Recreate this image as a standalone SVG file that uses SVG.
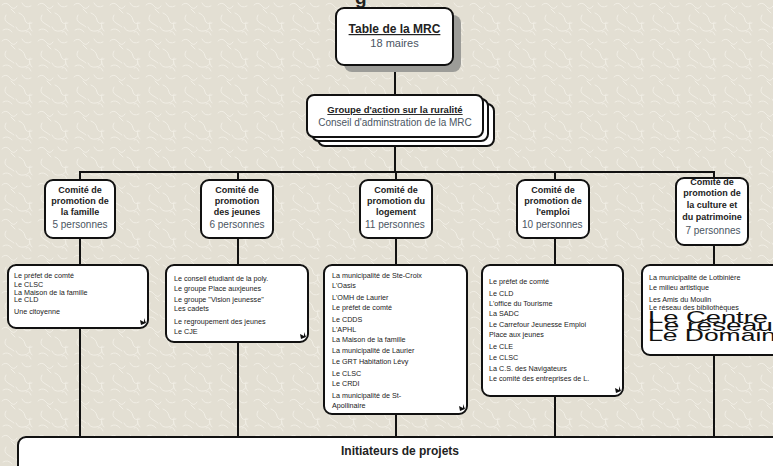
<svg xmlns="http://www.w3.org/2000/svg" width="773" height="466" viewBox="0 0 773 466">
<defs>
<pattern id="tex" width="36" height="36" patternUnits="userSpaceOnUse">
<rect width="36" height="36" fill="#e3dfd3"/>
<path d="M2 5 q4 -4 8 1 t7 0 M22 3 q3 6 9 3 M6 15 q-3 5 2 8 t6 4 M19 13 q5 2 6 7 t7 3 M3 30 q5 -3 9 2 M16 27 q2 5 8 4 t6 -5 M30 22 q-2 5 2 9 M11 9 l4 4 M26 32 q3 -2 5 3" fill="none" stroke="#f1eee5" stroke-width="1" stroke-linecap="round"/>
</pattern>
<style>
.box{fill:#fff;stroke:#111;stroke-width:2}
.ln{stroke:#111;stroke-width:2;fill:none}
.t{font-family:"Liberation Sans",Arial,sans-serif;text-anchor:middle}
.hb{font-weight:bold;font-size:9px;fill:#222}
.pp{font-size:10px;fill:#4a5562}
.d{font-family:"Liberation Sans",Arial,sans-serif;font-size:7.2px;fill:#1a1a1a}
.mk{fill:#111}
</style>
</defs>
<rect width="773" height="466" fill="url(#tex)"/>
<text x="355" y="4" font-family="Liberation Sans, Arial, sans-serif" font-weight="bold" font-size="19" fill="#222">g</text>

<g id="connectors">
<line class="ln" x1="395" y1="65" x2="395" y2="95"/>
<line class="ln" x1="395" y1="140" x2="395" y2="172"/>
<line class="ln" x1="80" y1="172" x2="714" y2="172"/>
<line class="ln" x1="80" y1="171" x2="80" y2="438"/>
<line class="ln" x1="238" y1="171" x2="238" y2="438"/>
<line class="ln" x1="396" y1="171" x2="396" y2="438"/>
<line class="ln" x1="555" y1="171" x2="555" y2="438"/>
<line class="ln" x1="714" y1="171" x2="714" y2="438"/>
</g>

<g id="table-mrc">
<rect x="344" y="15" width="117" height="57" rx="8" fill="#9c9c98"/>
<rect class="box" x="336" y="8" width="117" height="57" rx="8"/>
<text class="t" x="394.5" y="33" font-weight="bold" font-size="12" fill="#222" text-decoration="underline">Table de la MRC</text>
<text class="t" x="394.5" y="47" font-size="11" fill="#4a5562">18 maires</text>
</g>

<g id="groupe-action">
<rect class="box" x="318" y="104" width="176" height="42" rx="7"/>
<rect class="box" x="312" y="99" width="176" height="42" rx="7"/>
<rect class="box" x="307" y="95" width="176" height="42" rx="7"/>
<text class="t" x="395" y="113" font-weight="bold" font-size="9.5" fill="#222" text-decoration="underline">Groupe d'action sur la ruralité</text>
<text class="t" x="395" y="126" font-size="10" fill="#4a5562">Conseil d'adminstration de la MRC</text>
</g>

<g id="comite-famille">
<rect class="box" x="45" y="180" width="70" height="58" rx="8"/>
<text class="t hb" x="80" y="193">Comité de</text>
<text class="t hb" x="80" y="204">promotion de</text>
<text class="t hb" x="80" y="215">la famille</text>
<text class="t pp" x="80" y="228">5 personnes</text>
</g>
<g id="comite-jeunes">
<rect class="box" x="201" y="180" width="72" height="58" rx="8"/>
<text class="t hb" x="237" y="193">Comité de</text>
<text class="t hb" x="237" y="204">promotion</text>
<text class="t hb" x="237" y="215">des jeunes</text>
<text class="t pp" x="237" y="228">6 personnes</text>
</g>
<g id="comite-logement">
<rect class="box" x="360" y="180" width="72" height="58" rx="8"/>
<text class="t hb" x="396" y="193">Comité de</text>
<text class="t hb" x="396" y="204">promotion du</text>
<text class="t hb" x="396" y="215">logement</text>
<text class="pp" x="365" y="228" font-family="Liberation Sans, Arial, sans-serif">11 personnes</text>
</g>
<g id="comite-emploi">
<rect class="box" x="517" y="180" width="72" height="58" rx="8"/>
<text class="t hb" x="553" y="193">Comité de</text>
<text class="t hb" x="553" y="204">promotion de</text>
<text class="t hb" x="553" y="215">l'emploi</text>
<text class="pp" x="522" y="228" font-family="Liberation Sans, Arial, sans-serif">10 personnes</text>
</g>
<g id="comite-culture">
<rect class="box" x="676" y="178" width="72" height="67" rx="8"/>
<text class="t hb" x="712" y="185">Comité de</text>
<text class="t hb" x="712" y="196">promotion de</text>
<text class="t hb" x="712" y="208">la culture et</text>
<text class="t hb" x="712" y="220">du patrimoine</text>
<text class="t pp" x="713" y="234">7 personnes</text>
</g>

<g id="membres-famille">
<rect class="box" x="8" y="265" width="140" height="63" rx="8"/>
<path class="mk" d="M140 320 l4 2 l0 -4 l2 5 l-5 2 z"/>
<text class="d" x="14" y="277.5">Le préfet de comté</text>
<text class="d" x="14" y="286.5">Le CLSC</text>
<text class="d" x="14" y="294.5">La Maison de la famille</text>
<text class="d" x="14" y="302">Le CLD</text>
<text class="d" x="14" y="313.5">Une citoyenne</text>
</g>
<g id="membres-jeunes">
<rect class="box" x="166" y="265" width="142" height="77" rx="8"/>
<path class="mk" d="M300 334 l4 2 l0 -4 l2 5 l-5 2 z"/>
<text class="d" x="174" y="280.5">Le conseil étudiant de la poly.</text>
<text class="d" x="174" y="290.5">Le groupe Place auxjeunes</text>
<text class="d" x="174" y="301.5">Le groupe "Vision jeunesse"</text>
<text class="d" x="174" y="310.5">Les cadets</text>
<text class="d" x="174" y="323.5">Le regroupement des jeunes</text>
<text class="d" x="174" y="333.5">Le CJE</text>
</g>
<g id="membres-logement">
<rect class="box" x="324" y="265" width="143" height="149" rx="8"/>
<path class="mk" d="M459 406 l4 2 l0 -4 l2 5 l-5 2 z"/>
<text class="d" x="332" y="277.5">La municipalité de Ste-Croix</text>
<text class="d" x="332" y="287.5">L'Oasis</text>
<text class="d" x="332" y="299.5">L'OMH de Laurier</text>
<text class="d" x="332" y="309.5">Le préfet de comté</text>
<text class="d" x="332" y="321.5">Le CDDS</text>
<text class="d" x="332" y="331.5">L'APHL</text>
<text class="d" x="332" y="341.5">La Maison de la famille</text>
<text class="d" x="332" y="352.5">La municipalité de Laurier</text>
<text class="d" x="332" y="363.5">Le GRT Habitation Lévy</text>
<text class="d" x="332" y="375.5">Le CLSC</text>
<text class="d" x="332" y="385.5">Le CRDI</text>
<text class="d" x="332" y="397.5">La municipalité de St-</text>
<text class="d" x="332" y="407.5">Apollinaire</text>
</g>
<g id="membres-emploi">
<rect class="box" x="482" y="265" width="141" height="131" rx="8"/>
<path class="mk" d="M615 388 l4 2 l0 -4 l2 5 l-5 2 z"/>
<text class="d" x="489" y="283.5">Le préfet de comté</text>
<text class="d" x="489" y="295.5">Le CLD</text>
<text class="d" x="489" y="305.5">L'office du Tourisme</text>
<text class="d" x="489" y="315.5">La SADC</text>
<text class="d" x="489" y="326.5">Le Carrefour Jeunesse Emploi</text>
<text class="d" x="489" y="336.5">Place aux jeunes</text>
<text class="d" x="489" y="348.5">Le CLE</text>
<text class="d" x="489" y="359.5">Le CLSC</text>
<text class="d" x="489" y="370.5">La C.S. des Navigateurs</text>
<text class="d" x="489" y="380.5">Le comité des entreprises de L.</text>
</g>
<g id="membres-culture">
<rect class="box" x="642" y="265" width="150" height="90" rx="8"/>
<text class="d" x="649" y="280">La municipalité de Lotbinière</text>
<text class="d" x="649" y="290">Le milieu artistique</text>
<text class="d" x="649" y="302">Les Amis du Moulin</text>
<text class="d" x="649" y="310">Le réseau des bibliothèques</text>
<g font-family="Liberation Sans, Arial, sans-serif" font-size="17" fill="#111">
<text x="648" y="323" textLength="120" lengthAdjust="spacingAndGlyphs">Le Centre</text>
<text x="648" y="331" textLength="125" lengthAdjust="spacingAndGlyphs">Le réseau</text>
<text x="648" y="341" textLength="128" lengthAdjust="spacingAndGlyphs">Le Domain</text>
</g>
</g>

<g id="initiateurs">
<rect class="box" x="18" y="437" width="800" height="60" rx="8"/>
<text class="t" x="400" y="455" font-weight="bold" font-size="12" fill="#222">Initiateurs de projets</text>
</g>
</svg>
